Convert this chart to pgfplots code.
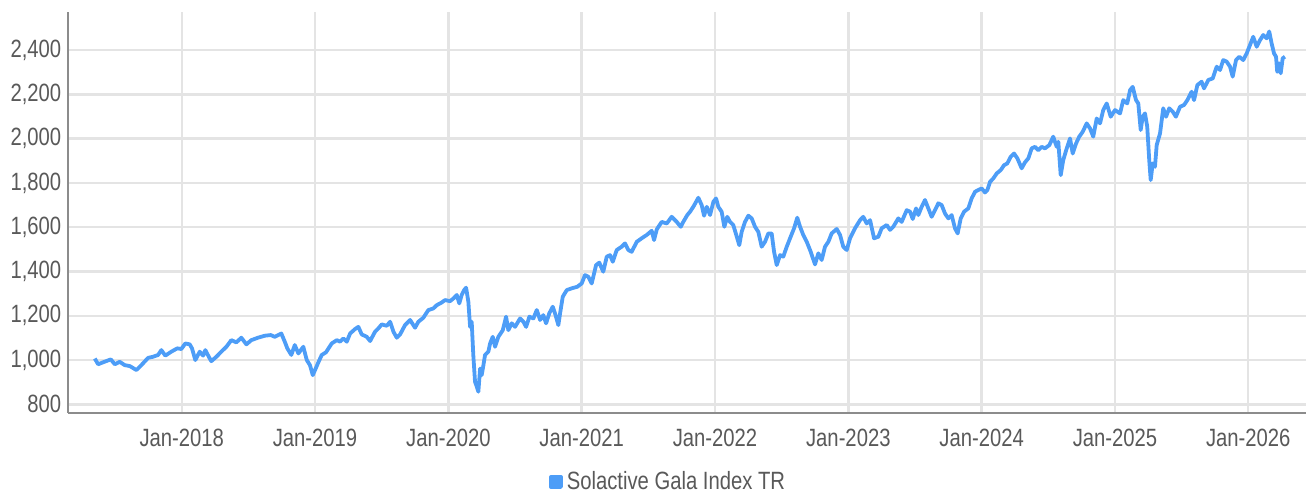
\documentclass[border=0pt]{standalone}
\usepackage{fontspec}
\setmainfont{Liberation Sans}[FakeStretch=0.81]
\usepackage{pgfplots}
\pgfplotsset{compat=1.18}

\definecolor{gala}{RGB}{77,157,247}
\definecolor{labelgray}{RGB}{89,89,89}
\definecolor{axisgray}{RGB}{140,140,140}
\definecolor{gridgray}{RGB}{228,228,228}

% index level, x = fractional year
\pgfplotstableread{
x y
2017.348 1007
2017.373 981
2017.410 990
2017.468 1003
2017.498 981
2017.535 992
2017.573 977
2017.610 973
2017.660 955
2017.697 977
2017.748 1010
2017.785 1015
2017.823 1023
2017.847 1045
2017.877 1020
2017.922 1038
2017.967 1053
2017.997 1050
2018.027 1075
2018.060 1071
2018.077 1053
2018.102 1000
2018.135 1038
2018.160 1020
2018.177 1045
2018.203 1015
2018.222 995
2018.260 1015
2018.297 1038
2018.335 1060
2018.372 1090
2018.410 1080
2018.447 1101
2018.485 1071
2018.522 1090
2018.572 1101
2018.623 1110
2018.668 1113
2018.698 1105
2018.747 1120
2018.773 1083
2018.792 1053
2018.822 1023
2018.848 1068
2018.875 1030
2018.912 1060
2018.938 1000
2018.962 977
2018.983 932
2019.000 955
2019.025 990
2019.050 1023
2019.082 1035
2019.125 1075
2019.163 1090
2019.188 1083
2019.212 1098
2019.238 1083
2019.263 1120
2019.300 1140
2019.325 1150
2019.350 1116
2019.388 1105
2019.413 1086
2019.450 1128
2019.475 1143
2019.500 1161
2019.538 1155
2019.563 1173
2019.588 1128
2019.613 1101
2019.638 1116
2019.675 1158
2019.713 1181
2019.750 1146
2019.775 1173
2019.812 1191
2019.850 1226
2019.887 1233
2019.913 1248
2019.950 1260
2019.975 1271
2020.013 1266
2020.043 1281
2020.063 1294
2020.082 1256
2020.100 1294
2020.118 1316
2020.133 1327
2020.150 1263
2020.163 1150
2020.175 1173
2020.187 1023
2020.200 902
2020.213 880
2020.225 857
2020.238 962
2020.250 932
2020.263 977
2020.275 1023
2020.300 1038
2020.313 1075
2020.333 1105
2020.350 1060
2020.375 1105
2020.408 1135
2020.433 1196
2020.450 1135
2020.475 1166
2020.500 1150
2020.538 1188
2020.563 1173
2020.583 1150
2020.608 1196
2020.638 1188
2020.663 1226
2020.688 1181
2020.712 1203
2020.733 1166
2020.757 1211
2020.783 1241
2020.800 1211
2020.825 1158
2020.838 1211
2020.858 1286
2020.888 1316
2020.925 1324
2020.967 1331
2021.000 1346
2021.025 1384
2021.050 1376
2021.075 1346
2021.108 1429
2021.132 1440
2021.162 1399
2021.188 1467
2021.213 1474
2021.233 1444
2021.263 1497
2021.300 1512
2021.325 1527
2021.350 1497
2021.375 1489
2021.413 1534
2021.450 1550
2021.488 1565
2021.525 1584
2021.543 1542
2021.563 1590
2021.600 1624
2021.638 1617
2021.675 1647
2021.713 1624
2021.743 1602
2021.762 1624
2021.792 1655
2021.813 1670
2021.837 1692
2021.875 1733
2021.900 1700
2021.918 1652
2021.938 1692
2021.963 1655
2021.988 1715
2022.008 1730
2022.025 1692
2022.050 1670
2022.070 1602
2022.092 1647
2022.113 1624
2022.137 1610
2022.158 1568
2022.182 1519
2022.200 1579
2022.225 1624
2022.250 1652
2022.275 1640
2022.300 1602
2022.325 1579
2022.350 1512
2022.375 1534
2022.400 1572
2022.425 1572
2022.443 1489
2022.463 1429
2022.488 1474
2022.512 1467
2022.538 1512
2022.563 1550
2022.593 1595
2022.617 1643
2022.638 1602
2022.662 1565
2022.688 1534
2022.718 1489
2022.750 1432
2022.775 1482
2022.800 1452
2022.825 1512
2022.850 1534
2022.875 1572
2022.913 1592
2022.938 1565
2022.962 1512
2022.988 1497
2023.013 1550
2023.050 1595
2023.088 1632
2023.112 1647
2023.138 1617
2023.163 1632
2023.193 1550
2023.225 1557
2023.250 1595
2023.288 1610
2023.313 1588
2023.337 1602
2023.375 1640
2023.400 1624
2023.438 1677
2023.463 1670
2023.483 1637
2023.508 1685
2023.525 1655
2023.550 1692
2023.575 1723
2023.600 1685
2023.625 1647
2023.650 1677
2023.675 1708
2023.700 1700
2023.725 1662
2023.750 1640
2023.775 1655
2023.800 1595
2023.820 1572
2023.843 1640
2023.868 1670
2023.900 1685
2023.925 1730
2023.950 1760
2023.975 1768
2024.000 1775
2024.025 1757
2024.043 1768
2024.063 1805
2024.087 1820
2024.113 1843
2024.143 1858
2024.168 1880
2024.192 1888
2024.218 1918
2024.243 1933
2024.268 1911
2024.300 1866
2024.325 1893
2024.350 1911
2024.375 1956
2024.400 1963
2024.425 1948
2024.450 1963
2024.475 1956
2024.508 1971
2024.537 2009
2024.563 1963
2024.575 1986
2024.593 1835
2024.612 1903
2024.638 1956
2024.663 2001
2024.683 1933
2024.708 1978
2024.732 2009
2024.758 2031
2024.788 2069
2024.813 2046
2024.837 2009
2024.863 2091
2024.888 2069
2024.912 2129
2024.938 2159
2024.968 2099
2025.000 2129
2025.038 2114
2025.062 2174
2025.092 2159
2025.113 2219
2025.133 2234
2025.158 2174
2025.175 2159
2025.193 2039
2025.208 2099
2025.225 2114
2025.242 2054
2025.257 1903
2025.268 1813
2025.283 1888
2025.300 1873
2025.313 1971
2025.338 2024
2025.362 2137
2025.383 2099
2025.407 2137
2025.433 2122
2025.457 2099
2025.488 2144
2025.518 2152
2025.543 2174
2025.575 2212
2025.593 2174
2025.618 2242
2025.650 2257
2025.668 2227
2025.700 2265
2025.733 2272
2025.763 2325
2025.788 2310
2025.812 2355
2025.838 2348
2025.863 2325
2025.883 2280
2025.908 2355
2025.932 2370
2025.962 2355
2025.988 2385
2026.013 2423
2026.037 2460
2026.063 2415
2026.088 2445
2026.112 2468
2026.138 2453
2026.157 2484
2026.175 2430
2026.193 2385
2026.208 2370
2026.217 2302
2026.232 2340
2026.243 2295
2026.258 2363
2026.275 2370
}\galadata

\begin{document}
\fontsize{12.5}{15}\selectfont
\begin{tikzpicture}
\useasboundingbox (0,0) rectangle (653pt,248pt);
\begin{axis}[
    at={(34pt,41.5pt)}, anchor=south west,
    scale only axis,
    width=619pt, height=200.5pt,
    xmin=2017.147, xmax=2026.433,
    ymin=761, ymax=2572,
    axis lines*=left,
    axis line style={-, draw=axisgray, line width=1pt},
    xmajorgrids=true, ymajorgrids=true,
    grid style={draw=gridgray, line width=1.2pt},
    major tick length=0pt,
    xtick={2018,2019,2020,2021,2022,2023,2024,2025,2026},
    xticklabels={Jan-2018,Jan-2019,Jan-2020,Jan-2021,Jan-2022,Jan-2023,Jan-2024,Jan-2025,Jan-2026},
    ytick={800,1000,1200,1400,1600,1800,2000,2200,2400},
    yticklabels={800,{1,000},{1,200},{1,400},{1,600},{1,800},{2,000},{2,200},{2,400}},
    tick label style={font=\fontsize{12.5}{15}\selectfont, text=labelgray},
    xticklabel style={yshift=-3.5pt},
    yticklabel style={xshift=1pt},
    legend style={at={(0.4855,-0.172)}, anchor=center, draw=none, fill=none,
        font=\fontsize{12.5}{15}\selectfont, text=labelgray, inner sep=0pt},
    legend cell align=left,
    legend image code/.code={\fill[gala] (0pt,-2.5pt) rectangle (5pt,2.5pt);},
]
\addplot[color=gala, line width=1.9pt, line join=round] table[x=x, y=y] {\galadata};
\legend{Solactive Gala Index TR}
\end{axis}
\end{tikzpicture}
\end{document}
